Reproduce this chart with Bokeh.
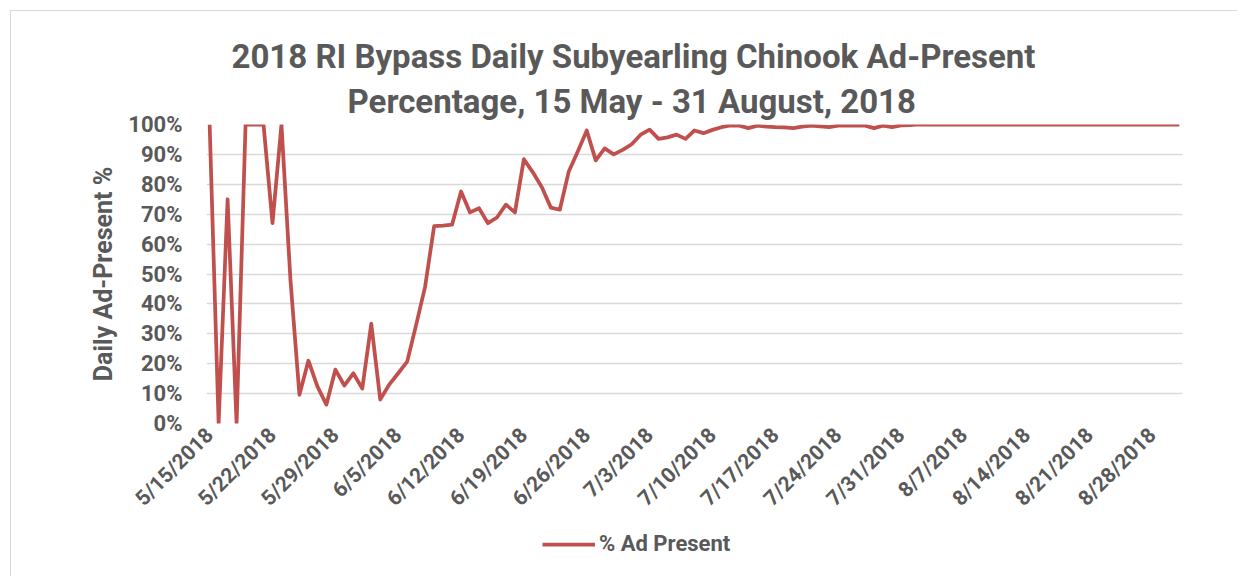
from bokeh.plotting import figure
from bokeh.models import FixedTicker, NumeralTickFormatter, Range1d, Legend, LegendItem, ColumnDataSource, Title
from bokeh.layouts import column
from bokeh.embed import file_html
from bokeh.resources import INLINE
import pandas as pd

dates = pd.date_range("2018-05-15", "2018-08-31", freq="D")
tick_every = 7

pct_ad_present = [
    100, 0, 75, 0, 100, 100, 100, 67, 100, 48,
    9.6, 21, 12.4, 6.3, 18, 12.7, 16.8, 11.7, 33.4, 8,
    13, 16.8, 20.7, 33, 45.8, 66, 66.2, 66.5, 77.6, 70.6,
    72, 67, 68.9, 73.2, 70.6, 88.4, 84, 79, 72.2, 71.5,
    84.3, 91, 98, 88, 92, 90, 91.5, 93.4, 96.6, 98.3,
    95.2, 95.7, 96.6, 95.2, 98, 97.1, 98.2, 99.1, 99.7, 99.6,
    98.8, 99.6, 99.3, 99.1, 99, 98.8, 99.3, 99.6, 99.4, 99.1,
    99.6, 99.6, 99.7, 99.6, 98.8, 99.6, 99.1, 99.7, 99.8, 100,
    100, 100, 100, 100, 100, 100, 100, 100, 100, 100,
    100, 100, 100, 100, 100, 100, 100, 100, 100, 100,
    100, 100, 100, 100, 100, 100, 100, 100, 100,
]

title_lines = ["2018 RI Bypass Daily Subyearling Chinook Ad-Present",
               "Percentage, 15 May - 31 August, 2018"]
y_label = "Daily Ad-Present %"
series_name = "% Ad Present"

n = len(pct_ad_present)
x_idx = list(range(n))
y_frac = [v / 100 for v in pct_ad_present]
labels = [f"{d.month}/{d.day}/{d.year}" for d in dates[:n]]

FONT = "Roboto"
GRAY = "#595959"
RED = "#C0504D"
GRID = "#D9D9D9"
W = 1226
SHIFT = 10

p = figure(width=W, height=525 - SHIFT, output_backend="svg", toolbar_location=None,
           x_range=Range1d(-0.35, n - 1 + 0.35), y_range=Range1d(0, 1),
           min_border_left=205 - SHIFT, min_border_right=55, min_border_top=123 - SHIFT,
           min_border_bottom=103)
p.outline_line_color = None
p.background_fill_color = "white"
p.border_fill_color = "white"

p.title.text = ""
title_offsets = [25, 141]
for i, line in enumerate(reversed(title_lines)):
    t = Title(text=line, text_font=FONT, text_font_style="bold", text_font_size="33px",
              text_color=GRAY, align="left", offset=title_offsets[1 - i],
              standoff=8 if i == 0 else 0)
    p.add_layout(t, "above")

src = ColumnDataSource(dict(x=x_idx, y=y_frac))
r = p.line("x", "y", source=src, line_color=RED, line_width=3.75, line_join="round")

p.xaxis.ticker = FixedTicker(ticks=x_idx[::tick_every])
p.xaxis.major_label_overrides = {i: labels[i] for i in x_idx[::tick_every]}
p.xaxis.major_label_orientation = 0.785398
p.yaxis.ticker = FixedTicker(ticks=[i / 10 for i in range(11)])
p.yaxis.formatter = NumeralTickFormatter(format="0%")
for ax in (p.xaxis[0], p.yaxis[0]):
    ax.axis_line_color = None
    ax.major_tick_line_color = None
    ax.minor_tick_line_color = None
    ax.major_label_text_font = FONT
    ax.major_label_text_font_style = "bold"
    ax.major_label_text_font_size = "21px"
    ax.major_label_text_color = GRAY
p.yaxis.major_label_text_font_size = "22px"
p.yaxis.major_label_standoff = 18
p.xaxis.major_label_standoff = 2
p.yaxis.axis_label = y_label
p.yaxis.axis_label_text_font = FONT
p.yaxis.axis_label_text_font_style = "bold"
p.yaxis.axis_label_text_font_size = "25px"
p.yaxis.axis_label_text_color = GRAY
p.yaxis.axis_label_standoff = 7

p.xgrid.grid_line_color = None
p.ygrid.grid_line_color = GRID
p.ygrid.grid_line_width = 1.5

# legend strip below the chart (its frame aligns with the chart frame in the column)
lg = figure(width=W, height=50, output_backend="svg", toolbar_location=None,
            x_range=Range1d(0, 1), y_range=Range1d(0, 1), x_axis_type=None, y_axis_type=None,
            min_border_left=0, min_border_right=0, min_border_top=0, min_border_bottom=0)
lg.outline_line_color = None
lg.grid.visible = False
lg.border_fill_color = "white"
lr = lg.line(x=[-10, -9], y=[-10, -9], line_color=RED, line_width=3.75)
legend = Legend(items=[LegendItem(label=series_name, renderers=[lr])], location=(336, 20),
                orientation="horizontal")
legend.label_text_font = FONT
legend.label_text_font_style = "bold"
legend.label_text_font_size = "22px"
legend.label_text_color = GRAY
legend.glyph_width = 53
legend.label_standoff = 4
legend.border_line_color = None
legend.background_fill_alpha = 0
legend.padding = 0
legend.margin = 0
lg.add_layout(legend, "center")

layout = column(p, lg, spacing=0)
layout.styles = {"border-top": "1px solid #D9D9D9", "border-left": "1px solid #D9D9D9",
                 "margin-left": f"{SHIFT}px", "margin-top": f"{SHIFT}px"}

open("out.html", "w").write(file_html(layout, INLINE))
